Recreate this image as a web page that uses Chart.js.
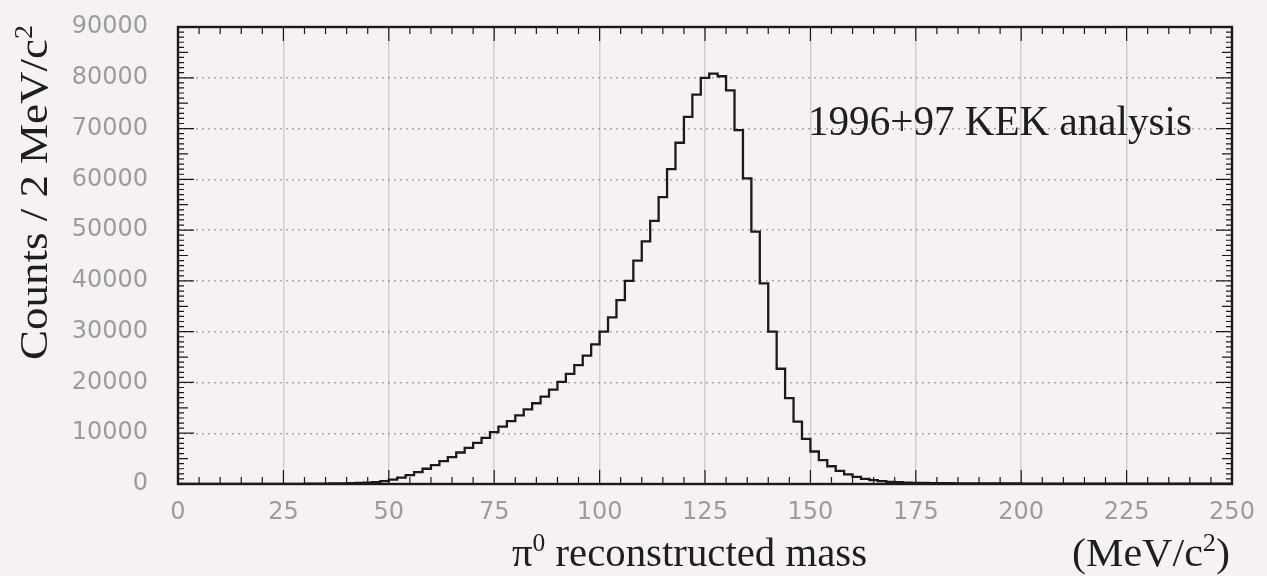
<!DOCTYPE html>
<html>
<head>
<meta charset="utf-8">
<script src="https://cdn.jsdelivr.net/npm/chart.js@4.4.1/dist/chart.umd.min.js"></script>
<style>
  html, body { margin: 0; padding: 0; background: #f7f2f2; }
  canvas { display: block; }
</style>
</head>
<body>
<canvas id="histo" width="1267" height="576"></canvas>
<script>
// pi0 reconstructed mass, 2 MeV/c^2 bins from 0 to 250
const binWidth = 2;
const massMin = 0;
const massMax = 250;
const counts = [
  0, 0, 0, 0, 0, 0, 0, 0, 0, 0,
  10, 10, 20, 20, 30, 40, 50, 60, 80, 100,
  120, 150, 200, 280, 380, 550, 850, 1250, 1750, 2350,
  3000, 3700, 4500, 5300, 6200, 7100, 8100, 9100, 10200, 11300,
  12400, 13500, 14700, 15900, 17200, 18600, 20100, 21700, 23400, 25300,
  27500, 30000, 32800, 36200, 40000, 44000, 47800, 51800, 56500, 62000,
  67200, 72300, 76700, 80000, 80800, 80300, 77500, 69700, 60200, 49700,
  39500, 30000, 22700, 16900, 12300, 8900, 6400, 4700, 3500, 2600,
  1900, 1400, 1000, 750, 560, 430, 340, 280, 230, 200,
  180, 160, 150, 140, 130, 120, 115, 110, 105, 100,
  95, 90, 90, 85, 85, 80, 80, 75, 75, 70,
  70, 65, 65, 60, 60, 60, 55, 55, 55, 50,
  50, 50, 45, 45, 45
];
const xTicks = [0, 25, 50, 75, 100, 125, 150, 175, 200, 225, 250];
const yTicks = [0, 10000, 20000, 30000, 40000, 50000, 60000, 70000, 80000, 90000];

const yTitle = 'Counts / 2 MeV/c';
const xTitle = ' reconstructed mass';
const unitLabel = '(MeV/c';
const tag = '1996+97 KEK analysis';

// step points at bin left edges, plus closing point at the right edge
const steps = counts.map((c, i) => ({ x: massMin + i * binWidth, y: c }));
steps.push({ x: massMin + counts.length * binWidth, y: counts[counts.length - 1] });

const serif = '"Liberation Serif", "DejaVu Serif", serif';

function richWidth(ctx, parts, size) {
  let w = 0;
  for (const p of parts) {
    ctx.font = (p.sup ? Math.round(size * 0.62) : size) + 'px ' + serif;
    w += ctx.measureText(p.t).width;
  }
  return w;
}

// draws text pieces (with superscripts) starting at 0,0 baseline
function drawRich(ctx, parts, size) {
  let x = 0;
  for (const p of parts) {
    const s = p.sup ? Math.round(size * 0.62) : size;
    ctx.font = s + 'px ' + serif;
    ctx.fillText(p.t, x, p.sup ? -size * 0.38 : 0);
    x += ctx.measureText(p.t).width;
  }
}

function placeText(ctx, parts, size, x, y, width, angle) {
  const w = richWidth(ctx, parts, size);
  ctx.save();
  ctx.translate(x, y);
  if (angle) ctx.rotate(angle);
  ctx.scale(width / w, 1);
  ctx.textBaseline = 'alphabetic';
  ctx.textAlign = 'left';
  drawRich(ctx, parts, size);
  ctx.restore();
}

const decor = {
  id: 'decor',
  afterDatasetsDraw(chart) {
    const { ctx, chartArea: a, scales } = chart;
    ctx.save();
    ctx.strokeStyle = '#1a1a1a';
    ctx.lineWidth = 1.2;
    ctx.beginPath();
    for (let v = massMin; v <= massMax; v += 5) {
      const px = scales.x.getPixelForValue(v);
      const len = v % 25 === 0 ? 14 : 7;
      ctx.moveTo(px, a.bottom); ctx.lineTo(px, a.bottom - len);
      ctx.moveTo(px, a.top); ctx.lineTo(px, a.top + len);
    }
    for (let v = 0; v <= 90000; v += 1000) {
      const py = scales.y.getPixelForValue(v);
      const len = v % 10000 === 0 ? 16 : (v % 5000 === 0 ? 10 : 6);
      ctx.moveTo(a.left, py); ctx.lineTo(a.left + len, py);
      ctx.moveTo(a.right, py); ctx.lineTo(a.right - len, py);
    }
    ctx.stroke();
    ctx.lineWidth = 2.4;
    ctx.strokeRect(a.left, a.top, a.right - a.left, a.bottom - a.top);

    ctx.fillStyle = '#1e1e1e';
    placeText(ctx, [{ t: tag }], 42, 808, 135, 384, 0);
    placeText(ctx, [{ t: 'π' }, { t: '0', sup: true }, { t: xTitle }], 40, 512, 566, 355, 0);
    placeText(ctx, [{ t: unitLabel }, { t: '2', sup: true }, { t: ')' }], 40, 1072, 566, 158, 0);
    placeText(ctx, [{ t: yTitle }, { t: '2', sup: true }], 40, 47, 360, 335, -Math.PI / 2);
    ctx.restore();
  }
};

new Chart(document.getElementById('histo'), {
  type: 'line',
  data: {
    datasets: [{
      data: steps,
      stepped: 'after',
      borderColor: '#1a1a1a',
      borderWidth: 2.3,
      pointRadius: 0,
      fill: false
    }]
  },
  options: {
    responsive: false,
    animation: false,
    layout: { padding: { left: 0, right: 35, top: 27, bottom: 0 } },
    plugins: { legend: { display: false }, tooltip: { enabled: false } },
    scales: {
      x: {
        type: 'linear',
        min: massMin,
        max: massMax,
        afterFit: s => { s.height = 92; s.paddingLeft = 0; s.paddingRight = 0; },
        afterBuildTicks: s => { s.ticks = xTicks.map(v => ({ value: v })); },
        grid: { color: 'rgba(160, 160, 160, 0.45)', lineWidth: 1.5, drawTicks: false },
        border: { display: false },
        ticks: {
          padding: 14,
          color: '#9c9c9c',
          font: { family: '"DejaVu Sans", sans-serif', size: 24 },
          maxRotation: 0
        }
      },
      y: {
        min: 0,
        max: 90000,
        afterFit: s => { s.width = 178; s.paddingTop = 0; s.paddingBottom = 0; },
        afterBuildTicks: s => { s.ticks = yTicks.map(v => ({ value: v })); },
        grid: { color: 'rgba(130, 130, 130, 0.65)', lineWidth: 1.4, drawTicks: false },
        border: { display: false, dash: [2, 4] },
        ticks: {
          padding: 30,
          color: '#9c9c9c',
          font: { family: '"DejaVu Sans", sans-serif', size: 24 },
          callback: v => String(v)
        }
      }
    }
  },
  plugins: [decor]
});
</script>
</body>
</html>
